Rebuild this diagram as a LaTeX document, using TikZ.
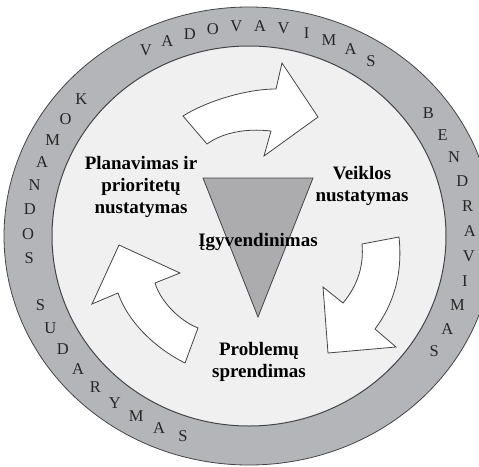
\documentclass[tikz,border=0pt]{standalone}
\usepackage{fontspec}
\setmainfont{Liberation Serif}
\usepackage{tikz}
\usetikzlibrary{calc}
\definecolor{ringgray}{RGB}{180,181,184}
\definecolor{innergray}{RGB}{240,240,240}
\definecolor{trigray}{RGB}{172,172,175}
\definecolor{edgegray}{RGB}{68,68,70}

\begin{document}
\begin{tikzpicture}[x=1pt,y=-1pt,
	ringletter/.style={inner sep=0pt,text=black!85,font=\fontsize{16.5}{17}\selectfont},
	phase/.style={align=center,inner sep=0pt,font=\fontsize{19}{22}\selectfont\bfseries},
	blockarrow/.style={fill=white,draw=edgegray,line width=0.8pt,line join=miter}]
		\clip (0,0) rectangle (479,466);
		% ring and inner field
		\draw[fill=ringgray,draw=edgegray,line width=0.8pt] (249,236) ellipse [x radius=245pt,y radius=229pt];
		\draw[fill=innergray,draw=edgegray,line width=1pt] (249,236) ellipse [x radius=197pt,y radius=190pt];
		% letters round the ring
		\foreach \ch [count=\i from 0] in {V,A,D,O,V,A,V,I,M,A,S}
			\node[ringletter] (top\i) at ({249+221*cos(117.8-6.13*\i)},{236-210*sin(117.8-6.13*\i)}) {\ch};
		\foreach \ch [count=\i from 0] in {B,E,N,D,R,A,V,I,M,A,S}
			\node[ringletter] (right\i) at ({249+221*cos(35.7-6.88*\i)},{236-210*sin(35.7-6.88*\i)}) {\ch};
		\foreach \ch [count=\i from 0] in {K,O,M,A,N,D,O,S,{},S,U,D,A,R,Y,M,A,S}
			\node[ringletter] (left\i) at ({249+221*cos(139.4+6.66*\i)},{236-210*sin(139.4+6.66*\i)}) {\ch};
		% triangle
		\draw[fill=trigray,draw=edgegray,line width=0.8pt] (203,178) -- (313,178) -- (258,317) -- cycle;
		% block arrows
		\draw[blockarrow] (183,116) .. controls (205,102) and (245,89) .. (276,89)
			-- (282,63) -- (318,117) -- (264,156) -- (271,131)
			.. controls (245,128) and (222,133) .. (207,144) -- cycle;
		\draw[blockarrow] (362,244) -- (399,237) .. controls (403,275) and (393,305) .. (375,329)
			-- (396,347) -- (328,353) -- (323,287) -- (343,303)
			.. controls (358,285) and (364,265) .. (362,244) -- cycle;
		\draw[blockarrow] (185,363) -- (198,328) .. controls (178,320) and (160,300) .. (155,283)
			-- (180,273) -- (119,245) -- (92,304) -- (118,293)
			.. controls (128,322) and (155,348) .. (185,363) -- cycle;
		% phases
		\node[phase] (plan) at (141,187) {Planavimas ir\\prioritetų\\nustatymas};
		\node[phase] (veikla) at (362,186) {Veiklos\\nustatymas};
		\node[phase] (igyv) at (258,242) {Įgyvendinimas};
		\node[phase] (probl) at (259,362) {Problemų\\sprendimas};
	\end{tikzpicture}
\end{document}
